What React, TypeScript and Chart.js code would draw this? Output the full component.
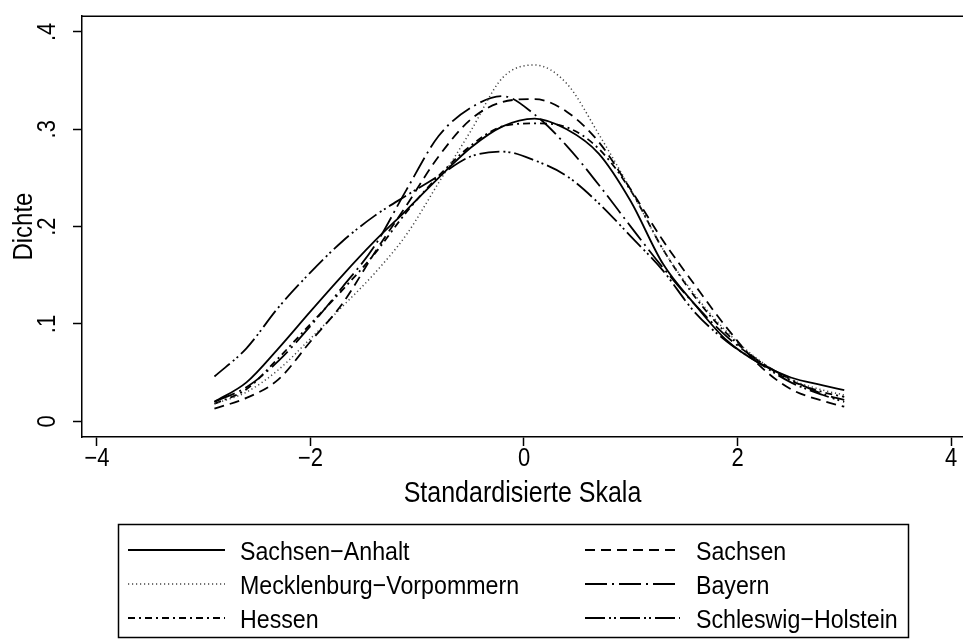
import React, { useEffect, useRef } from "react";
import { Chart, registerables } from "chart.js";

Chart.register(...registerables);

// ---- data ----
const xGrid = [-2.9, -2.6, -2.3, -2.0, -1.7, -1.4, -1.1, -0.8, -0.5, -0.2, 0.1, 0.4, 0.7, 1.0, 1.3, 1.6, 1.9, 2.2, 2.5, 2.8, 3.0];

const sachsenAnhalt = [0.020, 0.040, 0.075, 0.113, 0.150, 0.185, 0.217, 0.250, 0.281, 0.303, 0.311, 0.300, 0.275, 0.226, 0.162, 0.120, 0.083, 0.060, 0.045, 0.037, 0.032];
const sachsen = [0.013, 0.024, 0.043, 0.082, 0.121, 0.173, 0.222, 0.272, 0.310, 0.328, 0.331, 0.318, 0.287, 0.238, 0.186, 0.140, 0.096, 0.058, 0.033, 0.021, 0.015];
const mecklenburg = [0.018, 0.030, 0.053, 0.085, 0.118, 0.152, 0.192, 0.245, 0.298, 0.353, 0.366, 0.347, 0.295, 0.238, 0.177, 0.130, 0.092, 0.063, 0.043, 0.032, 0.027];
const bayern = [0.020, 0.035, 0.062, 0.098, 0.138, 0.180, 0.238, 0.293, 0.322, 0.334, 0.315, 0.283, 0.243, 0.200, 0.158, 0.120, 0.087, 0.062, 0.043, 0.028, 0.022];
const hessen = [0.018, 0.033, 0.065, 0.100, 0.135, 0.172, 0.215, 0.252, 0.283, 0.303, 0.306, 0.302, 0.280, 0.237, 0.177, 0.128, 0.090, 0.062, 0.042, 0.030, 0.025];
const schleswig = [0.046, 0.075, 0.117, 0.153, 0.185, 0.211, 0.232, 0.252, 0.272, 0.277, 0.268, 0.252, 0.224, 0.190, 0.155, 0.112, 0.082, 0.060, 0.040, 0.027, 0.020];

const seriesNames = ["Sachsen\u2212Anhalt", "Sachsen", "Mecklenburg\u2212Vorpommern", "Bayern", "Hessen", "Schleswig\u2212Holstein"];
const seriesValues = [sachsenAnhalt, sachsen, mecklenburg, bayern, hessen, schleswig];

const xTickValues = [-4, -2, 0, 2, 4];
const xTickLabels = ["\u22124", "\u22122", "0", "2", "4"];
const yTickValues = [0, 0.1, 0.2, 0.3, 0.4];
const yTickLabels = ["0", ".1", ".2", ".3", ".4"];

const xTitle = "Standardisierte Skala";
const yTitle = "Dichte";

// ---- styles ----
const FONT = "'Liberation Sans', Arial, Helvetica, sans-serif";
const STRETCH = 1.15;
const dashes: number[][] = [
  [],
  [10, 6],
  [1.2, 2.8],
  [22, 5, 2, 5],
  [7, 4, 2, 4],
  [20, 4, 2, 3, 2, 4],
];
const colors = ["#000", "#000", "#444", "#000", "#000", "#000"];
const widths = [1.8, 1.8, 1.5, 1.8, 1.8, 1.8];

function tallText(ctx: CanvasRenderingContext2D, text: string, x: number, y: number, rot: number) {
  ctx.save();
  ctx.translate(x, y);
  if (rot) ctx.rotate(rot);
  ctx.scale(1, STRETCH);
  ctx.fillText(text, 0, 0);
  ctx.restore();
}

const textPlugin = {
  id: "stataText",
  afterDraw(chart: any) {
    const ctx = chart.ctx as CanvasRenderingContext2D;
    const ca = chart.chartArea;
    const xs = chart.scales.x;
    const ys = chart.scales.y;
    ctx.save();
    // top frame line
    ctx.strokeStyle = "#000";
    ctx.lineWidth = 1.5;
    ctx.beginPath();
    ctx.moveTo(ca.left, ca.top);
    ctx.lineTo(chart.width, ca.top);
    ctx.stroke();

    ctx.fillStyle = "#000";
    ctx.textBaseline = "alphabetic";
    // x tick labels
    ctx.font = `22px ${FONT}`;
    ctx.textAlign = "center";
    xTickValues.forEach((v, i) => {
      tallText(ctx, xTickLabels[i], xs.getPixelForValue(v), 466, 0);
    });
    // y tick labels (rotated)
    yTickValues.forEach((v, i) => {
      tallText(ctx, yTickLabels[i], 55, ys.getPixelForValue(v), -Math.PI / 2);
    });
    // titles
    ctx.font = `25px ${FONT}`;
    tallText(ctx, xTitle, (ca.left + ca.right) / 2, 502, 0);
    ctx.font = `24px ${FONT}`;
    tallText(ctx, yTitle, 32, (ca.top + ca.bottom) / 2, -Math.PI / 2);

    // legend
    const bx = 118.5, by = 524.5, bw = 790, bh = 113;
    ctx.lineWidth = 1.5;
    ctx.strokeStyle = "#000";
    ctx.setLineDash([]);
    ctx.strokeRect(bx, by, bw, bh);
    const rowsY = [550, 584, 618];
    const cols = [
      { s0: 128, s1: 225, t: 240 },
      { s0: 585, s1: 680, t: 696 },
    ];
    ctx.font = `23.2px ${FONT}`;
    ctx.textAlign = "left";
    seriesNames.forEach((name, i) => {
      const col = cols[i % 2];
      const ry = rowsY[Math.floor(i / 2)];
      ctx.save();
      ctx.strokeStyle = colors[i];
      ctx.lineWidth = widths[i];
      ctx.setLineDash(dashes[i]);
      ctx.beginPath();
      ctx.moveTo(col.s0, ry);
      ctx.lineTo(col.s1, ry);
      ctx.stroke();
      ctx.restore();
      tallText(ctx, name, col.t, ry + 10, 0);
    });
    ctx.restore();
  },
};

export default function App() {
  const ref = useRef<HTMLCanvasElement | null>(null);
  useEffect(() => {
    if (!ref.current) return;
    const datasets = seriesNames.map((name, i) => ({
      label: name,
      data: xGrid.map((x, j) => ({ x, y: seriesValues[i][j] })),
      borderColor: colors[i],
      borderWidth: widths[i],
      borderDash: dashes[i],
      borderCapStyle: "butt" as const,
      pointRadius: 0,
      fill: false,
      cubicInterpolationMode: "monotone" as const,
    }));
    const chart = new Chart(ref.current, {
      type: "line",
      data: { datasets },
      options: {
        animation: false,
        responsive: false,
        devicePixelRatio: 1,
        layout: { padding: { top: 8, right: 0, bottom: 0, left: 0 } },
        plugins: { legend: { display: false }, tooltip: { enabled: false } },
        scales: {
          x: {
            type: "linear",
            min: -4.1405,
            max: 4.1124,
            afterBuildTicks: (s: any) => {
              s.ticks = xTickValues.map((v) => ({ value: v }));
            },
            afterFit: (s: any) => {
              s.height = 641 - 437;
            },
            ticks: { color: "rgba(0,0,0,0)", font: { size: 22 } },
            grid: { drawOnChartArea: false, drawTicks: true, tickLength: 9, tickColor: "#000", tickWidth: 1.5 },
            border: { display: true, color: "#000", width: 1.5 },
          },
          y: {
            type: "linear",
            min: -0.01612,
            max: 0.41612,
            afterBuildTicks: (s: any) => {
              s.ticks = yTickValues.map((v) => ({ value: v }));
            },
            afterFit: (s: any) => {
              s.width = 82;
            },
            ticks: { color: "rgba(0,0,0,0)", font: { size: 22 } },
            grid: { drawOnChartArea: false, drawTicks: true, tickLength: 9, tickColor: "#000", tickWidth: 1.5 },
            border: { display: true, color: "#000", width: 1.5 },
          },
        },
      },
      plugins: [textPlugin],
    });
    return () => chart.destroy();
  }, []);
  return (
    <div style={{ position: "absolute", left: 0, top: 0, width: 963, height: 641, background: "#fff" }}>
      <canvas ref={ref} width={963} height={641} style={{ display: "block", width: 963, height: 641 }} />
    </div>
  );
}
